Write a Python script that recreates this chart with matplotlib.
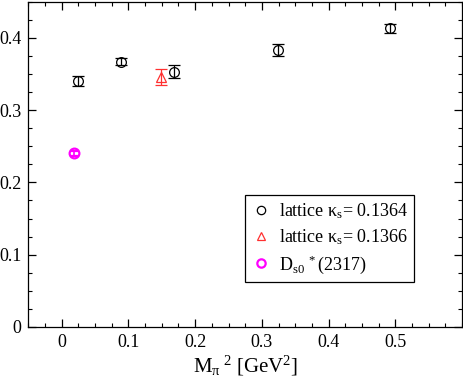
import matplotlib
matplotlib.use("Agg")
import matplotlib.pyplot as plt
from matplotlib.ticker import MultipleLocator
from matplotlib.lines import Line2D

plt.rcParams['font.family'] = ['Liberation Serif', 'DejaVu Serif']
plt.rcParams['mathtext.fontset'] = 'custom'
plt.rcParams['mathtext.rm'] = 'Liberation Serif'
plt.rcParams['mathtext.it'] = 'Liberation Serif:italic'

# data
x_k1364 = [0.024, 0.089, 0.169, 0.324, 0.4925]
y_k1364 = [0.340, 0.367, 0.353, 0.383, 0.413]
e_k1364 = [0.007, 0.005, 0.009, 0.008, 0.006]

x_k1366 = [0.149]
y_k1366 = [0.346]
e_k1366 = [0.011]

x_ds0 = [0.018]
y_ds0 = [0.240]
e_ds0 = [0.003]

labels = ['lattice κ$_{\\rm s}$= 0.1364', 'lattice κ$_{\\rm s}$= 0.1366',
          'D$_{\\rm s0}$$^{\\ *}$(2317)']

fig = plt.figure(figsize=(4.64, 3.82), dpi=100)
ax = fig.add_axes([0.061, 0.144, 0.935, 0.852])

ax.errorbar(x_k1364, y_k1364, yerr=e_k1364, fmt='o', mfc='none', mec='black',
            ecolor='black', ms=7, mew=0.9, elinewidth=0.9, capsize=4, capthick=0.9)
ax.errorbar(x_k1366, y_k1366, yerr=e_k1366, fmt='^', mfc='none', mec='#ff3030',
            ecolor='#ff3030', ms=7, mew=0.9, elinewidth=0.9, capsize=4, capthick=0.9)
ax.errorbar(x_ds0, y_ds0, yerr=e_ds0, fmt='o', mfc='none', mec='magenta',
            ecolor='magenta', ms=7, mew=1.6, elinewidth=1.2, capsize=3, capthick=1.2)

ax.set_xlim(-0.05, 0.6)
ax.set_ylim(0, 0.45)
ax.xaxis.set_minor_locator(MultipleLocator(0.025))
ax.yaxis.set_minor_locator(MultipleLocator(0.025))
ax.set_xticks([0, 0.1, 0.2, 0.3, 0.4, 0.5])
ax.set_xticklabels(['0', '0.1', '0.2', '0.3', '0.4', '0.5'])
ax.set_yticks([0, 0.1, 0.2, 0.3, 0.4])
ax.set_yticklabels(['0', '0.1', '0.2', '0.3', '0.4'])
ax.tick_params(which='both', direction='in', top=True, right=True, labelsize=13)
ax.tick_params(which='major', length=6, width=0.9, pad=5)
ax.tick_params(which='minor', length=3, width=0.8)
for s in ax.spines.values():
    s.set_linewidth(0.9)

ax.set_xlabel('M$_{\\rm π}$$^{\\ 2}$ [GeV$^{2}$]', fontsize=15, labelpad=2)

handles = [
    Line2D([], [], ls='none', marker='o', mfc='none', mec='black', ms=6, mew=0.9),
    Line2D([], [], ls='none', marker='^', mfc='none', mec='#ff3030', ms=6, mew=0.9),
    Line2D([], [], ls='none', marker='o', mfc='none', mec='magenta', ms=6, mew=1.6),
]
leg = ax.legend(handles, labels, loc='lower left', bbox_to_anchor=(0.50, 0.138),
                borderaxespad=0, fontsize=13,
                frameon=True, fancybox=False, edgecolor='black', framealpha=1,
                handlelength=1.0, handletextpad=0.5, borderpad=0.35, labelspacing=0.35)
leg.get_frame().set_linewidth(0.9)

fig.savefig('out.png', dpi=100)
